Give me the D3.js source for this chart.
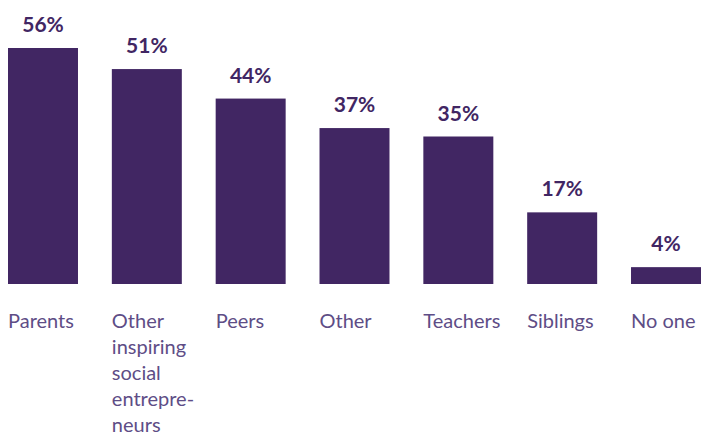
<!DOCTYPE html>
<html>
<head>
<meta charset="utf-8">
<script src="https://cdn.jsdelivr.net/npm/d3@7"></script>
<style>
  html, body { margin: 0; padding: 0; background: #fff; }
  svg { display: block; }
</style>
</head>
<body>
<svg id="chart" width="707" height="436"></svg>
<script>
// Who inspired respondents: share naming each source
const categories = ["Parents", "Other inspiring social entrepreneurs", "Peers", "Other", "Teachers", "Siblings", "No one"];
const categoryLines = [
  ["Parents"],
  ["Other", "inspiring", "social", "entrepre-", "neurs"],
  ["Peers"],
  ["Other"],
  ["Teachers"],
  ["Siblings"],
  ["No one"]
];
const values = [56, 51, 44, 37, 35, 17, 4];

const W = 707, H = 436;
const barColor = "#412663";
const valueColor = "#412663";
const labelColor = "#5e4d86";

const svg = d3.select("#chart");

const x = d3.scaleBand()
  .domain(categories)
  .range([8, 701])
  .paddingInner(0.326)
  .paddingOuter(0);

const y = d3.scaleLinear()
  .domain([0, 56])
  .range([284, 48]);

const data = categories.map((c, i) => ({ name: c, value: values[i], lines: categoryLines[i] }));

// Bars
svg.append("g")
  .selectAll("rect")
  .data(data)
  .join("rect")
  .attr("x", d => x(d.name))
  .attr("y", d => y(d.value))
  .attr("width", x.bandwidth())
  .attr("height", d => y(0) - y(d.value))
  .attr("fill", barColor);

// Value labels above each bar
svg.append("g")
  .selectAll("text")
  .data(data)
  .join("text")
  .attr("x", d => x(d.name) + x.bandwidth() / 2)
  .attr("y", d => y(d.value) - 16)
  .attr("text-anchor", "middle")
  .attr("font-family", "Lato, 'Noto Sans', sans-serif")
  .attr("font-weight", 700)
  .attr("font-size", 21)
  .attr("fill", valueColor)
  .text(d => d.value + "%");

// Category labels, left-aligned under each bar
const labels = svg.append("g")
  .selectAll("text")
  .data(data)
  .join("text")
  .attr("x", d => x(d.name))
  .attr("y", 328)
  .attr("font-family", "Lato, 'Noto Sans', sans-serif")
  .attr("font-weight", 400)
  .attr("font-size", 20)
  .attr("fill", labelColor);

labels.selectAll("tspan")
  .data(d => d.lines.map(l => ({ l, x: x(d.name) })))
  .join("tspan")
  .attr("x", t => t.x)
  .attr("dy", (t, i) => i === 0 ? 0 : 26)
  .text(t => t.l);
</script>
</body>
</html>
